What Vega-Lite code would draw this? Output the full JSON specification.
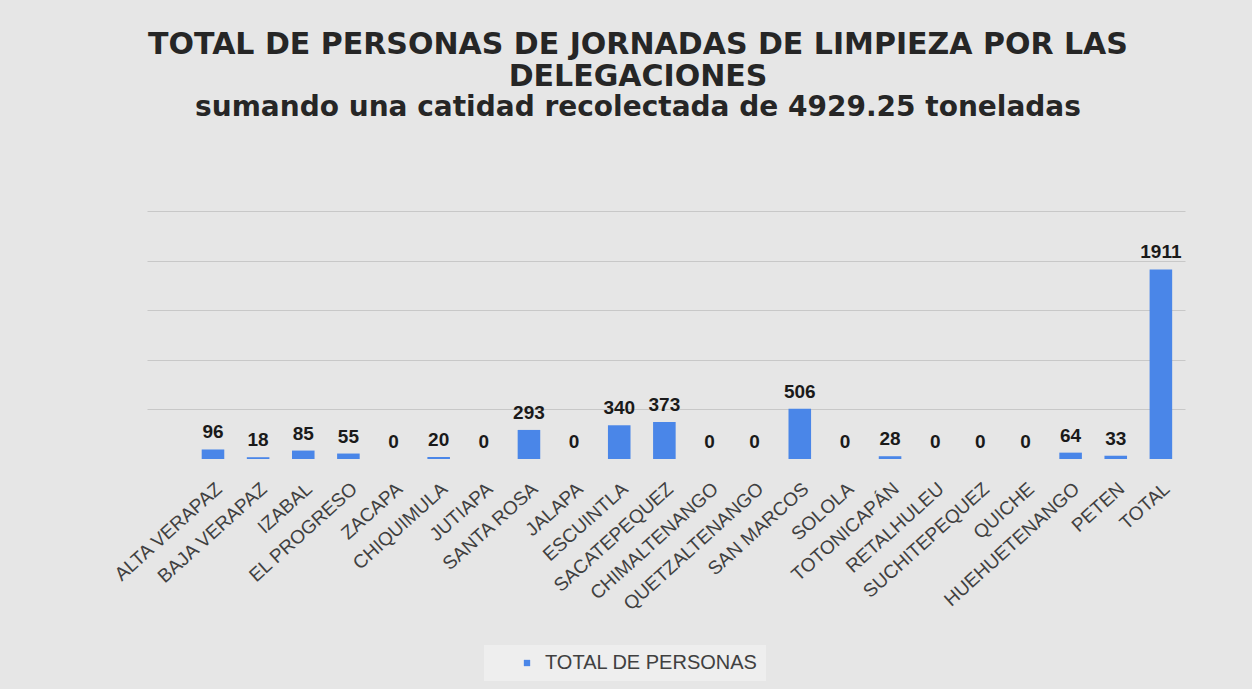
{
  "$schema": "https://vega.github.io/schema/vega-lite/v6.json",
  "width": 1038,
  "height": 248,
  "autosize": {"type": "none"},
  "padding": {"left": 147, "top": 211, "right": 67, "bottom": 230},
  "background": "#e6e6e6",
  "config": {
    "view": {"stroke": null},
    "font": "Liberation Sans"
  },
  "title": {
    "text": ["TOTAL DE PERSONAS DE JORNADAS DE LIMPIEZA POR LAS", "DELEGACIONES"],
    "subtitle": "sumando una catidad recolectada de 4929.25 toneladas",
    "anchor": "middle",
    "dx": -28,
    "offset": 89,
    "font": "DejaVu Sans",
    "fontSize": 30,
    "fontWeight": "bold",
    "lineHeight": 32,
    "color": "#262626",
    "subtitleFont": "DejaVu Sans",
    "subtitleFontSize": 28,
    "subtitleFontWeight": "bold",
    "subtitleColor": "#262626",
    "subtitleLineHeight": 32,
    "subtitlePadding": 2
  },
  "data": {
    "values": [
      {"delegacion": "ALTA VERAPAZ", "personas": 96},
      {"delegacion": "BAJA VERAPAZ", "personas": 18},
      {"delegacion": "IZABAL", "personas": 85},
      {"delegacion": "EL PROGRESO", "personas": 55},
      {"delegacion": "ZACAPA", "personas": 0},
      {"delegacion": "CHIQUIMULA", "personas": 20},
      {"delegacion": "JUTIAPA", "personas": 0},
      {"delegacion": "SANTA ROSA", "personas": 293},
      {"delegacion": "JALAPA", "personas": 0},
      {"delegacion": "ESCUINTLA", "personas": 340},
      {"delegacion": "SACATEPEQUEZ", "personas": 373},
      {"delegacion": "CHIMALTENANGO", "personas": 0},
      {"delegacion": "QUETZALTENANGO", "personas": 0},
      {"delegacion": "SAN MARCOS", "personas": 506},
      {"delegacion": "SOLOLA", "personas": 0},
      {"delegacion": "TOTONICAPÁN", "personas": 28},
      {"delegacion": "RETALHULEU", "personas": 0},
      {"delegacion": "SUCHITEPEQUEZ", "personas": 0},
      {"delegacion": "QUICHE", "personas": 0},
      {"delegacion": "HUEHUETENANGO", "personas": 64},
      {"delegacion": "PETEN", "personas": 33},
      {"delegacion": "TOTAL", "personas": 1911}
    ]
  },
  "encoding": {
    "x": {
      "field": "delegacion",
      "type": "nominal",
      "sort": null,
      "scale": {"paddingInner": 0.5, "paddingOuter": 0.748, "align": 0.81},
      "axis": {
        "title": null,
        "domain": false,
        "ticks": false,
        "labelAngle": -42,
        "labelAlign": "right",
        "labelBaseline": "top",
        "labelPadding": 20,
        "labelFont": "Liberation Sans",
        "labelFontSize": 19,
        "labelColor": "#404040",
        "labelLimit": 300
      }
    },
    "y": {
      "field": "personas",
      "type": "quantitative",
      "scale": {"domain": [0, 2500]},
      "axis": {
        "title": null,
        "labels": false,
        "ticks": false,
        "domain": false,
        "values": [500, 1000, 1500, 2000, 2500],
        "grid": true,
        "gridColor": "#c8c8c8",
        "gridWidth": 1
      }
    }
  },
  "layer": [
    {
      "mark": {"type": "bar", "color": "#4a86e8"},
      "encoding": {
        "color": {
          "datum": "TOTAL DE PERSONAS",
          "type": "nominal",
          "scale": {"range": ["#4a86e8"]},
          "legend": {
            "title": null,
            "orient": "none",
            "legendX": 337,
            "legendY": 434,
            "fillColor": "#eeeeee",
            "padding": 8,
            "symbolType": "square",
            "symbolSize": 40,
            "symbolOffset": 25,
            "labelFont": "Liberation Sans",
            "labelFontSize": 20,
            "labelColor": "#404040",
            "labelOffset": 8,
            "labelLimit": 400
          }
        }
      }
    },
    {
      "mark": {"type": "text", "baseline": "alphabetic", "dy": -11, "font": "Liberation Sans", "fontSize": 19, "fontWeight": "bold", "color": "#1a1a1a"},
      "encoding": {"text": {"field": "personas", "type": "quantitative"}}
    },
    {
      "mark": {"type": "rule", "color": "#404040", "strokeWidth": 3},
      "encoding": {"y": {"datum": 0}}
    }
  ]
}
